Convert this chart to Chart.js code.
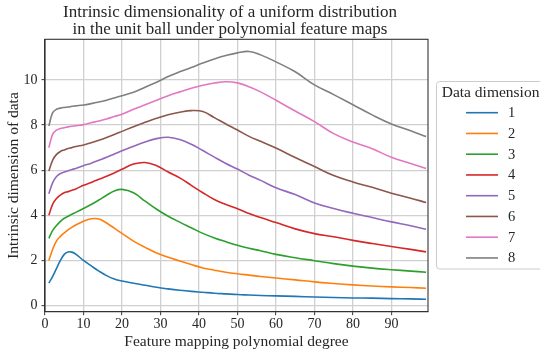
<!DOCTYPE html>
<html><head><meta charset="utf-8">
<script src="https://cdn.jsdelivr.net/npm/chart.js@4.4.1/dist/chart.umd.min.js"></script>
<style>html,body{margin:0;padding:0;background:#fff}#wrap{width:540px;height:353px;position:relative;overflow:hidden}</style>
</head><body><div id="wrap"><canvas id="c" width="540" height="353"></canvas></div>
<script>
const titleLines = ['Intrinsic dimensionality of a uniform distribution', 'in the unit ball under polynomial feature maps'];
const xLabel = 'Feature mapping polynomial degree';
const yLabel = 'Intrinsic dimension of data';
const legendTitle = 'Data dimension';
const dimLabels = ['1', '2', '3', '4', '5', '6', '7', '8'];
const xTicks = [0, 10, 20, 30, 40, 50, 60, 70, 80, 90];
const yTicks = [0, 2, 4, 6, 8, 10];
const degrees = [1,2,3,4,5,6,7,8,10,12,14,16,18,20,23,26,29,32,35,38,41,44,47,50,53,56,60,65,70,75,80,85,90,95,99];
const dim1 = [1.0,1.3,1.65,2.0,2.27,2.38,2.37,2.28,2.0,1.76,1.53,1.33,1.18,1.09,0.99,0.9,0.81,0.74,0.68,0.63,0.59,0.55,0.52,0.49,0.47,0.45,0.43,0.41,0.38,0.36,0.34,0.33,0.31,0.3,0.28];
const dim2 = [2.0,2.5,2.87,3.07,3.22,3.36,3.47,3.57,3.74,3.85,3.84,3.66,3.43,3.2,2.86,2.58,2.33,2.14,1.98,1.82,1.67,1.57,1.48,1.41,1.35,1.29,1.22,1.14,1.05,0.98,0.92,0.87,0.83,0.8,0.77];
const dim3 = [2.98,3.33,3.55,3.73,3.87,3.96,4.05,4.13,4.3,4.48,4.68,4.89,5.08,5.15,5.0,4.63,4.27,3.96,3.7,3.45,3.2,3.0,2.83,2.67,2.54,2.43,2.27,2.12,1.99,1.86,1.75,1.66,1.59,1.53,1.48];
const dim4 = [4.0,4.5,4.75,4.9,5.0,5.05,5.11,5.17,5.33,5.46,5.6,5.73,5.88,6.04,6.27,6.34,6.2,5.92,5.66,5.33,5.0,4.7,4.48,4.29,4.08,3.9,3.68,3.4,3.19,3.05,2.89,2.75,2.62,2.49,2.38];
const dim5 = [4.96,5.45,5.72,5.85,5.92,5.98,6.03,6.08,6.2,6.31,6.44,6.57,6.72,6.86,7.06,7.25,7.4,7.46,7.36,7.15,6.87,6.58,6.3,6.05,5.78,5.55,5.22,4.92,4.55,4.3,4.09,3.9,3.71,3.54,3.38];
const dim6 = [5.96,6.45,6.7,6.83,6.9,6.96,7.0,7.05,7.12,7.22,7.33,7.45,7.58,7.72,7.93,8.12,8.3,8.46,8.57,8.64,8.6,8.33,8.05,7.78,7.5,7.28,6.98,6.56,6.16,5.76,5.48,5.24,4.98,4.76,4.57];
const dim7 = [7.0,7.6,7.78,7.85,7.88,7.92,7.95,7.97,8.02,8.1,8.18,8.27,8.38,8.48,8.7,8.9,9.1,9.3,9.47,9.63,9.76,9.86,9.92,9.87,9.7,9.47,9.1,8.62,8.15,7.62,7.25,6.95,6.57,6.3,6.08];
const dim8 = [7.96,8.55,8.7,8.75,8.78,8.8,8.83,8.85,8.89,8.95,9.02,9.1,9.2,9.3,9.45,9.68,9.9,10.15,10.36,10.55,10.75,10.93,11.08,11.2,11.26,11.11,10.8,10.36,9.78,9.35,8.9,8.45,8.05,7.75,7.49];
const series = [dim1, dim2, dim3, dim4, dim5, dim6, dim7, dim8];
const colors = ['#1f77b4','#ff7f0e','#2ca02c','#d62728','#9467bd','#8c564b','#e377c2','#7f7f7f'];

const FONT = "'Liberation Serif', 'DejaVu Serif', serif";
const TEXT = '#262626';

const datasets = series.map((vals, i) => ({
  label: dimLabels[i],
  data: degrees.map((d, j) => ({x: d, y: vals[j]})),
  borderColor: colors[i],
  backgroundColor: colors[i],
  borderWidth: 1.6,
  pointRadius: 0,
  fill: false,
  tension: 0.4
}));

const decor = {
  id: 'decor',
  afterDatasetsDraw(chart) {
    const ctx = chart.ctx, a = chart.chartArea;
    ctx.save();
    ctx.strokeStyle = '#333';
    ctx.lineWidth = 1.1;
    ctx.strokeRect(a.left, a.top, a.right - a.left, a.bottom - a.top);
    ctx.restore();
  },
  afterDraw(chart) {
    const ctx = chart.ctx;
    ctx.save();
    ctx.fillStyle = TEXT;
    ctx.font = '17px ' + FONT;
    ctx.textAlign = 'center';
    ctx.textBaseline = 'alphabetic';
    ctx.fillText(titleLines[0], 230, 16.8);
    ctx.fillText(titleLines[1], 230, 34.4);
    const bx = 436.5, by = 81.5, bw = 120, bh = 187.5;
    ctx.beginPath();
    ctx.roundRect(bx, by, bw, bh, 3);
    ctx.fillStyle = 'rgba(255,255,255,0.85)';
    ctx.fill();
    ctx.strokeStyle = '#cccccc';
    ctx.lineWidth = 1;
    ctx.stroke();
    ctx.fillStyle = TEXT;
    ctx.font = '15.5px ' + FONT;
    ctx.textAlign = 'left';
    ctx.textBaseline = 'middle';
    ctx.fillText(legendTitle, 441.7, 93);
    chart.data.datasets.forEach((ds, i) => {
      const y = 112.7 + 20.75 * i;
      ctx.strokeStyle = ds.borderColor;
      ctx.lineWidth = 1.6;
      ctx.beginPath();
      ctx.moveTo(466, y);
      ctx.lineTo(498, y);
      ctx.stroke();
      ctx.fillStyle = TEXT;
      ctx.font = '14.5px ' + FONT;
      ctx.fillText(ds.label, 508, y + 0.5);
    });
    ctx.restore();
  }
};

new Chart(document.getElementById('c'), {
  type: 'line',
  data: { datasets },
  options: {
    responsive: false,
    animation: false,
    devicePixelRatio: 1,
    layout: { padding: { left: 0, top: 39.3, right: 112, bottom: 0 } },
    plugins: { legend: { display: false }, title: { display: false }, tooltip: { enabled: false } },
    scales: {
      x: {
        type: 'linear', min: 0, max: 99.5,
        afterFit(s) { s.height = 41.3; },
        afterBuildTicks(s) { s.ticks = xTicks.map(v => ({value: v})); },
        ticks: { color: TEXT, font: { family: FONT, size: 14 }, padding: 1, maxRotation: 0, autoSkip: false },
        grid: { color: '#d0d0d0', lineWidth: 1.3, tickColor: '#333', tickLength: 3.5, tickWidth: 1 },
        border: { display: true, color: '#333', width: 1.1 },
        title: { display: true, text: xLabel, color: TEXT, font: { family: FONT, size: 15.5 }, padding: { top: 0, bottom: 2 } }
      },
      y: {
        type: 'linear', min: -0.27, max: 11.8,
        afterFit(s) { s.width = 45; },
        afterBuildTicks(s) { s.ticks = yTicks.map(v => ({value: v})); },
        ticks: { color: TEXT, font: { family: FONT, size: 14 }, padding: 4, autoSkip: false },
        grid: { color: '#d0d0d0', lineWidth: 1.3, tickColor: '#333', tickLength: 3.5, tickWidth: 1 },
        border: { display: true, color: '#333', width: 1.1 },
        title: { display: true, text: yLabel, color: TEXT, font: { family: FONT, size: 15.5 }, padding: { top: 5, bottom: 0 } }
      }
    }
  },
  plugins: [decor]
});
</script>
</body></html>
